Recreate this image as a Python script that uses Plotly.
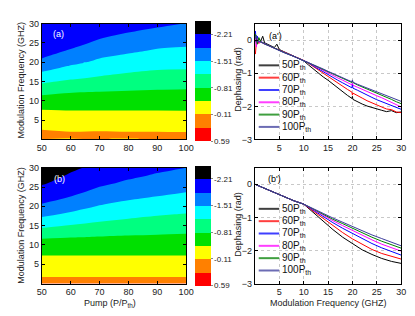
import plotly.graph_objects as go

# ---------------- data ----------------
PUMP = [50, 60, 70, 80, 90, 100]
SERIES_LABELS = ["50P<sub>th</sub>", "60P<sub>th</sub>", "70P<sub>th</sub>",
                 "80P<sub>th</sub>", "90P<sub>th</sub>", "100P<sub>th</sub>"]

# panel (a)/(a') : measured-like (noisy) dephasing, rad
FREQ_A = [0.1, 0.3, 0.5, 0.8, 1.2, 1.6, 2, 3, 4, 4.5, 5, 6, 8, 10, 11, 12, 13, 14, 15,
          16, 17, 18, 19, 19.9, 20, 20.1, 21, 22, 23, 24, 25, 26, 27, 28, 29, 30]
DEPH_A_50 = [-0.05, 0.10, -0.08, 0.05, -0.02, 0.12, -0.08, -0.14, -0.22, -0.12, -0.28, -0.35,
             -0.48, -0.62, -0.75, -0.88, -0.99, -1.11, -1.21, -1.33, -1.45, -1.56, -1.67, -1.76,
             -1.70, -1.79, -1.86, -1.93, -1.99, -2.04, -2.09, -2.12, -2.16, -2.13, -2.19, -2.17]
DEPH_A_60 = [-0.42, -0.05, 0.02, -0.10, -0.03, -0.09, -0.11, -0.17, -0.24, -0.27, -0.30, -0.37,
             -0.49, -0.61, -0.70, -0.80, -0.91, -1.01, -1.11, -1.21, -1.31, -1.40, -1.49, -1.57,
             -1.66, -1.60, -1.68, -1.75, -1.83, -1.90, -1.96, -2.02, -2.08, -2.10, -2.17, -2.19]
DEPH_A_70 = [0.28, -0.10, 0.12, -0.06, -0.04, -0.08, -0.10, -0.17, -0.24, -0.27, -0.30, -0.37,
             -0.49, -0.61, -0.69, -0.78, -0.87, -0.96, -1.05, -1.13, -1.21, -1.29, -1.37, -1.44,
             -1.30, -1.45, -1.51, -1.59, -1.66, -1.73, -1.80, -1.86, -1.92, -1.98, -2.04, -2.09]
DEPH_A_80 = [0.10, -0.20, 0.05, -0.07, -0.05, -0.08, -0.11, -0.17, -0.24, -0.27, -0.30, -0.37,
             -0.49, -0.61, -0.68, -0.76, -0.84, -0.92, -1.00, -1.07, -1.14, -1.21, -1.28, -1.35,
             -1.30, -1.36, -1.42, -1.49, -1.56, -1.62, -1.68, -1.74, -1.81, -1.88, -1.95, -2.02]
DEPH_A_90 = [0.18, -0.02, -0.12, 0.08, -0.06, -0.07, -0.11, -0.17, -0.24, -0.27, -0.30, -0.37,
             -0.49, -0.61, -0.68, -0.75, -0.82, -0.89, -0.96, -1.03, -1.10, -1.16, -1.22, -1.28,
             -1.23, -1.28, -1.35, -1.41, -1.48, -1.54, -1.60, -1.66, -1.72, -1.79, -1.86, -1.92]
DEPH_A_100 = [0.05, 0.15, -0.05, -0.03, -0.06, -0.08, -0.12, -0.18, -0.25, -0.28, -0.31, -0.38,
              -0.49, -0.61, -0.68, -0.74, -0.81, -0.87, -0.94, -1.01, -1.08, -1.15, -1.21, -1.26,
              -1.20, -1.27, -1.33, -1.39, -1.45, -1.51, -1.56, -1.62, -1.68, -1.74, -1.80, -1.85]

# panel (b)/(b') : simulated (smooth) dephasing, rad
FREQ_B = [0, 2, 4, 6, 8, 10, 12, 14, 16, 18, 20, 22, 24, 26, 28, 30]
DEPH_B_50 = [0, -0.13, -0.26, -0.39, -0.50, -0.60, -0.86, -1.11, -1.37, -1.60, -1.80, -1.98,
             -2.12, -2.24, -2.33, -2.39]
DEPH_B_60 = [0, -0.13, -0.26, -0.39, -0.50, -0.60, -0.82, -1.04, -1.25, -1.46, -1.65, -1.82,
             -1.97, -2.09, -2.18, -2.26]
DEPH_B_70 = [0, -0.13, -0.26, -0.39, -0.50, -0.60, -0.79, -0.98, -1.16, -1.33, -1.49, -1.65,
             -1.79, -1.92, -2.04, -2.14]
DEPH_B_80 = [0, -0.13, -0.26, -0.39, -0.50, -0.60, -0.77, -0.94, -1.10, -1.25, -1.40, -1.54,
             -1.68, -1.81, -1.92, -2.02]
DEPH_B_90 = [0, -0.13, -0.26, -0.39, -0.50, -0.60, -0.76, -0.91, -1.06, -1.19, -1.33, -1.47,
             -1.60, -1.72, -1.83, -1.93]
DEPH_B_100 = [0, -0.13, -0.26, -0.39, -0.50, -0.60, -0.75, -0.88, -1.02, -1.15, -1.28, -1.41,
              -1.53, -1.64, -1.75, -1.86]

CBAR_TICKS = [-2.21, -1.51, -0.81, -0.11, 0.59]
CBAR_TICKTEXT = ["-2.21", "-1.51", "-0.81", "-0.11", "0.59"]
LEVEL_LOW = -2.21     # lowest contour boundary
LEVEL_HIGH = 0.24     # highest contour boundary
LEVEL_STEP = 0.35
CBAR_MIN = -2.56
CBAR_MAX = 0.59

SERIES_A = [DEPH_A_50, DEPH_A_60, DEPH_A_70, DEPH_A_80, DEPH_A_90, DEPH_A_100]
SERIES_B = [DEPH_B_50, DEPH_B_60, DEPH_B_70, DEPH_B_80, DEPH_B_90, DEPH_B_100]

# ---------------- styles ----------------
LINE_COLORS = ["#000000", "#ff0000", "#0000ff", "#ff00ff", "#008000", "#3c3c9c"]
BAND_COLORS = ["#ff0000", "#ff8000", "#ffff00", "#00e000", "#00ff80",
               "#00ffff", "#0080ff", "#0000ff", "#000000"]  # for -z ascending
FONT = "Liberation Sans, Arial, sans-serif"
W, H = 415, 316

nlev = len(BAND_COLORS) - 1
cscale = []
for k, c in enumerate(BAND_COLORS):
    lo = max(0.0, (k - 0.5) / nlev)
    hi = min(1.0, (k + 0.5) / nlev)
    cscale += [[lo, c], [hi, c]]

LEFT_X = [38 / W, 187 / W]
RIGHT_X = [258 / W, 409 / W]
TOP_Y = [1 - 138.8 / H, 1 - 19.3 / H]
BOT_Y = [1 - 287.7 / H, 1 - 168.0 / H]

fig = go.Figure()


def add_contour(freq, series, xa, ya, cb_y):
    z = [[-series[j][i] for j in range(len(PUMP))] for i in range(len(freq))]
    fig.add_trace(go.Contour(
        x=PUMP, y=freq, z=z, xaxis=xa, yaxis=ya,
        colorscale=cscale, autocontour=False, zauto=False,
        zmin=-CBAR_MAX, zmax=-CBAR_MIN,
        contours=dict(start=-LEVEL_HIGH, end=-LEVEL_LOW, size=LEVEL_STEP,
                      coloring="fill", showlines=False),
        line=dict(width=0, smoothing=0.9),
        colorbar=dict(x=196 / W, xanchor="left", y=cb_y, yanchor="middle",
                      thickness=16, thicknessmode="pixels",
                      len=120, lenmode="pixels", xpad=0, ypad=0,
                      outlinewidth=0, tickvals=[-v for v in CBAR_TICKS],
                      ticktext=CBAR_TICKTEXT, ticks="outside", ticklen=2,
                      tickcolor="#888", tickfont=dict(family=FONT, size=8, color="#222")),
        hoverinfo="skip"))


add_contour(FREQ_A, SERIES_A, "x", "y", 1 - 78.8 / H)
add_contour(FREQ_B, SERIES_B, "x3", "y3", 1 - 227.8 / H)

for xa, ya, freq, series in [("x2", "y2", FREQ_A, SERIES_A), ("x4", "y4", FREQ_B, SERIES_B)]:
    for s, col in zip(series, LINE_COLORS):
        fig.add_trace(go.Scatter(x=freq, y=s, xaxis=xa, yaxis=ya, mode="lines",
                                 line=dict(color=col, width=1), showlegend=False,
                                 hoverinfo="skip"))

tickfont = dict(family=FONT, size=9, color="#222")
titlefont = dict(family=FONT, size=9, color="#222")
common = dict(showline=True, linecolor="#000", linewidth=1, mirror="allticks",
              ticks="inside", ticklen=3, tickcolor="#000", tickfont=tickfont,
              zeroline=False)

layout = dict(width=W, height=H, margin=dict(l=0, r=0, t=0, b=0),
              plot_bgcolor="white", paper_bgcolor="white", showlegend=False,
              font=dict(family=FONT))

layout["xaxis"] = dict(domain=LEFT_X, anchor="y", range=[50, 100],
                       tickvals=[50, 60, 70, 80, 90, 100], showgrid=False, **common)
layout["yaxis"] = dict(domain=TOP_Y, anchor="x", range=[0, 30],
                       tickvals=[5, 10, 15, 20, 25, 30], showgrid=False, **common)
layout["xaxis3"] = dict(domain=LEFT_X, anchor="y3", range=[50, 100],
                        tickvals=[50, 60, 70, 80, 90, 100], showgrid=False, **common)
layout["yaxis3"] = dict(domain=BOT_Y, anchor="x3", range=[0, 30],
                        tickvals=[5, 10, 15, 20, 25, 30], showgrid=False, **common)
grid = dict(showgrid=True, gridcolor="#c8c8c8", gridwidth=1, griddash="dot")
layout["xaxis2"] = dict(domain=RIGHT_X, anchor="y2", range=[0, 30],
                        tickvals=[5, 10, 15, 20, 25, 30], **grid, **common)
layout["yaxis2"] = dict(domain=TOP_Y, anchor="x2", range=[-3, 0.5],
                        tickvals=[0, -1, -2, -3], **grid, **common)
layout["xaxis4"] = dict(domain=RIGHT_X, anchor="y4", range=[0, 30],
                        tickvals=[5, 10, 15, 20, 25, 30], **grid, **common)
layout["yaxis4"] = dict(domain=BOT_Y, anchor="x4", range=[-3, 0.5],
                        tickvals=[0, -1, -2, -3], **grid, **common)

annotations = []
shapes = []

# axis titles (placed in paper pixels)
for text, px, py, ang in [("Modulation Frequency (GHZ)", 17, 77.5, -90),
                          ("Modulation Frequency (GHZ)", 17, 227.5, -90),
                          ("Dephasing (rad)", 241, 76.7, -90),
                          ("Dephasing (rad)", 241, 226.5, -90),
                          ("Pump (P/P<sub>th</sub>)", 108, 308.5, 0),
                          ("Modulation Frequency (GHZ)", 333.8, 307.7, 0)]:
    annotations.append(dict(xref="paper", yref="paper", x=px / W, y=1 - py / H,
                            text=text, textangle=ang, showarrow=False,
                            xanchor="center", yanchor="middle",
                            font=titlefont))

for ax, label, color, xd, yd in [("", "(a)", "white", 0.065, 0.91),
                                 ("3", "(b)", "white", 0.072, 0.906),
                                 ("2", "(a')", "black", 0.08, 0.896),
                                 ("4", "(b')", "black", 0.075, 0.905)]:
    annotations.append(dict(xref=f"x{ax} domain", yref=f"y{ax} domain", x=xd, y=yd,
                            text=label, showarrow=False, xanchor="left", yanchor="middle",
                            font=dict(family=FONT, size=9, color=color)))

for ax, y0 in [("2", 0.640), ("4", 0.645)]:
    for i, (lab, col) in enumerate(zip(SERIES_LABELS, LINE_COLORS)):
        yy = y0 - i * 0.1064
        shapes.append(dict(type="line", xref=f"x{ax} domain", yref=f"y{ax} domain",
                           x0=0.026, x1=0.166, y0=yy, y1=yy,
                           line=dict(color=col, width=2), opacity=0.75))
        annotations.append(dict(xref=f"x{ax} domain", yref=f"y{ax} domain", x=0.172, y=yy,
                                text=lab, showarrow=False, xanchor="left", yanchor="middle",
                                font=dict(family=FONT, size=10, color="#111")))

layout["annotations"] = annotations
layout["shapes"] = shapes
fig.update_layout(**layout)
fig.write_html("out.html", config={"displayModeBar": False, "staticPlot": True},
               post_script="document.body.style.margin='0';document.body.style.overflow='hidden';")
